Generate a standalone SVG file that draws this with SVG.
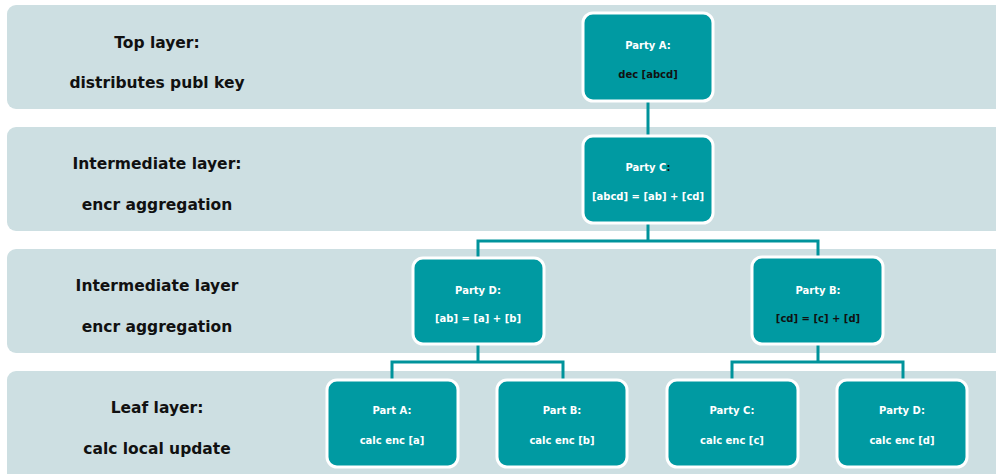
<svg xmlns="http://www.w3.org/2000/svg" width="996" height="474" viewBox="0 0 996 474">
<style>
.band{fill:#cddfe2}
.lbl{font-family:"DejaVu Sans","Liberation Sans",sans-serif;font-weight:700;font-size:15.5px;fill:#111;text-anchor:middle}
.node rect{fill:#009aa2;stroke:#fff;stroke-width:3}
.nt{font-family:"DejaVu Sans","Liberation Sans",sans-serif;font-weight:700;font-size:10px;fill:#fff;text-anchor:middle}
.dk{fill:#111}
.conn{fill:none;stroke:#00939b;stroke-width:3}
</style>
<rect width="996" height="474" fill="#fff"/>
<g id="bands">
<rect class="band" x="7" y="5" width="1010" height="104" rx="9"/>
<rect class="band" x="7" y="127" width="1010" height="104" rx="9"/>
<rect class="band" x="7" y="249" width="1010" height="104" rx="9"/>
<rect class="band" x="7" y="371" width="1010" height="114" rx="9"/>
</g>
<g id="labels">
<text class="lbl" x="157" y="48">Top layer:</text>
<text class="lbl" x="157" y="88">distributes publ key</text>
<text class="lbl" x="157" y="169">Intermediate layer:</text>
<text class="lbl" x="157" y="210">encr aggregation</text>
<text class="lbl" x="157" y="291">Intermediate layer</text>
<text class="lbl" x="157" y="332">encr aggregation</text>
<text class="lbl" x="157" y="413">Leaf layer:</text>
<text class="lbl" x="157" y="454">calc local update</text>
</g>
<g id="connectors">
<path class="conn" d="M648 101V136"/>
<path class="conn" d="M648 223V241M478 258V241H818V257"/>
<path class="conn" d="M478 344V362M392 380V362H563V380"/>
<path class="conn" d="M818 344V362M732 380V362H903V380"/>
</g>
<g id="partyA-top" class="node">
<rect x="583" y="13" width="130" height="88" rx="10"/>
<text class="nt" x="648" y="49">Party A:</text>
<text class="nt dk" x="648" y="78">dec [abcd]</text>
</g>
<g id="partyC-mid" class="node">
<rect x="583" y="136" width="130" height="87" rx="10"/>
<text class="nt" x="648" y="171">Party C<tspan class="dk">:</tspan></text>
<text class="nt" x="648" y="200">[abcd] = [ab] + [cd]</text>
</g>
<g id="partyD-mid" class="node">
<rect x="413" y="258" width="131" height="86" rx="10"/>
<text class="nt" x="478" y="294">Party D:</text>
<text class="nt" x="478" y="322">[ab] = [a] + [b]</text>
</g>
<g id="partyB-mid" class="node">
<rect x="752" y="257" width="131" height="87" rx="10"/>
<text class="nt" x="818" y="294">Party B:</text>
<text class="nt dk" x="818" y="322">[cd] = [c] + [d]</text>
</g>
<g id="partA-leaf" class="node">
<rect x="327" y="380" width="131" height="87" rx="10"/>
<text class="nt" x="392" y="414">Part A:</text>
<text class="nt" x="392" y="444">calc enc [a]</text>
</g>
<g id="partB-leaf" class="node">
<rect x="497" y="380" width="130" height="87" rx="10"/>
<text class="nt" x="562" y="414">Part B:</text>
<text class="nt" x="562" y="444">calc enc [b]</text>
</g>
<g id="partyC-leaf" class="node">
<rect x="667" y="380" width="131" height="87" rx="10"/>
<text class="nt" x="732" y="414">Party C:</text>
<text class="nt" x="732" y="444">calc enc [c]</text>
</g>
<g id="partyD-leaf" class="node">
<rect x="837" y="380" width="130" height="87" rx="10"/>
<text class="nt" x="902" y="414">Party D:</text>
<text class="nt" x="902" y="444">calc enc [d]</text>
</g>
</svg>
